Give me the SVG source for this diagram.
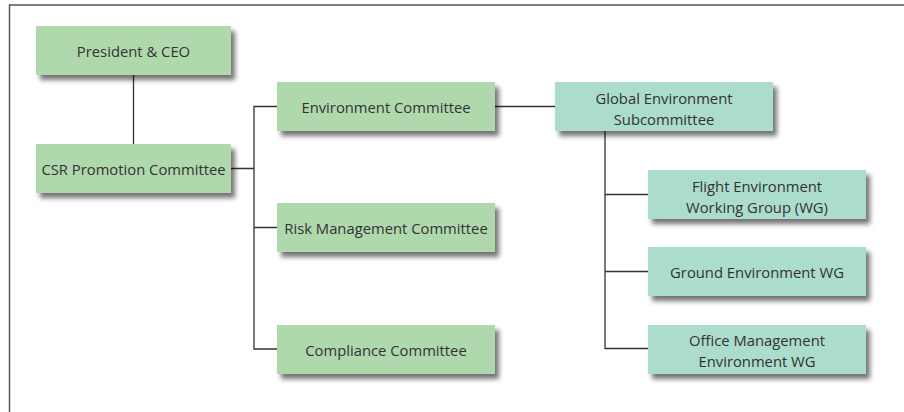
<svg xmlns="http://www.w3.org/2000/svg" width="904" height="412" viewBox="0 0 904 412">
<defs>
<filter id="sh" x="-10%" y="-20%" width="130%" height="160%">
<feDropShadow dx="4" dy="5" stdDeviation="2.5" flood-color="#000" flood-opacity="0.55"/>
</filter>
<style>
.g{fill:#b0d8ad;filter:url(#sh)}
.t{fill:#abdccc;filter:url(#sh)}
text{font-family:"Open Sans","Noto Sans",sans-serif;font-size:14.8px;fill:#333;text-anchor:middle}
.c{fill:none;stroke:#333;stroke-width:1.3}
</style>
</defs>
<path d="M9.5 412V5H904" fill="none" stroke="#555" stroke-width="1.5"/>
<g id="connectors">
<path class="c" d="M133.5 75V144"/>
<path class="c" d="M231 168.5H254M277 106.5H254V349H277M254 227.5H277"/>
<path class="c" d="M495 106.5H555"/>
<path class="c" d="M605 131V348.5H648M605 194.5H648M605 271.5H648"/>
</g>
<g id="president"><rect class="g" x="36" y="26" width="195" height="49"/><text x="133.5" y="57">President &amp; CEO</text></g>
<g id="csr"><rect class="g" x="36" y="144" width="195" height="49"/><text x="133.5" y="175">CSR Promotion Committee</text></g>
<g id="env"><rect class="g" x="277" y="82" width="218" height="49"/><text x="386" y="112.5">Environment Committee</text></g>
<g id="risk"><rect class="g" x="277" y="203" width="218" height="49"/><text x="386" y="234">Risk Management Committee</text></g>
<g id="compliance"><rect class="g" x="277" y="325" width="218" height="49"/><text x="386" y="355.5">Compliance Committee</text></g>
<g id="global"><rect class="t" x="555" y="82" width="218" height="49"/><text x="664" y="103.5">Global Environment</text><text x="664" y="124.5">Subcommittee</text></g>
<g id="flight"><rect class="t" x="648" y="170" width="218" height="49"/><text x="757" y="191.5">Flight Environment</text><text x="757" y="212.5">Working Group (WG)</text></g>
<g id="ground"><rect class="t" x="648" y="247" width="218" height="49"/><text x="757" y="278">Ground Environment WG</text></g>
<g id="office"><rect class="t" x="648" y="325" width="218" height="49"/><text x="757" y="345.5">Office Management</text><text x="757" y="366.5">Environment WG</text></g>
</svg>
